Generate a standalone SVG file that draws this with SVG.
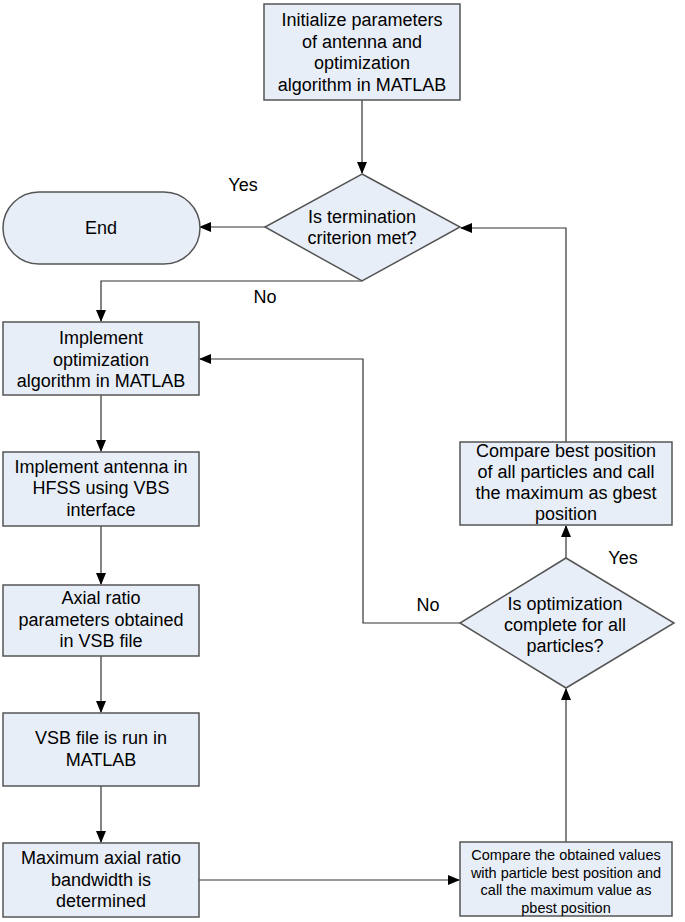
<svg xmlns="http://www.w3.org/2000/svg" width="685" height="922" viewBox="0 0 685 922">
<style>
.n{fill:#e8eef8;stroke:#555;stroke-width:1.5}
.t{font-family:"Liberation Sans",Arial,sans-serif;font-size:18px;fill:#000;text-anchor:middle}
.s{font-size:14.5px}
.c{fill:none;stroke:#333;stroke-width:1.2}
</style>
<defs>
<marker id="a" markerWidth="12" markerHeight="10" refX="11" refY="5" orient="auto" markerUnits="userSpaceOnUse">
<path d="M0,0 L12,5 L0,10 Z" fill="#000"/>
</marker>
</defs>
<rect width="685" height="922" fill="#fff"/>
<g id="connectors">
<path class="c" d="M362,100 V173" marker-end="url(#a)"/>
<path class="c" d="M265,227 H200" marker-end="url(#a)"/>
<path class="c" d="M362,281 H101 V321" marker-end="url(#a)"/>
<path class="c" d="M101,395 V451" marker-end="url(#a)"/>
<path class="c" d="M101,526 V584" marker-end="url(#a)"/>
<path class="c" d="M101,656 V712" marker-end="url(#a)"/>
<path class="c" d="M101,786 V842" marker-end="url(#a)"/>
<path class="c" d="M199,880 H459" marker-end="url(#a)"/>
<path class="c" d="M566,842 V689" marker-end="url(#a)"/>
<path class="c" d="M566,558 V526" marker-end="url(#a)"/>
<path class="c" d="M566,442 V228 H461" marker-end="url(#a)"/>
<path class="c" d="M460,623 H363 V359 H200" marker-end="url(#a)"/>
<text class="t" x="243" y="191">Yes</text>
<text class="t" x="265" y="303">No</text>
<text class="t" x="428" y="611">No</text>
<text class="t" x="623" y="564">Yes</text>
</g>
<g id="init">
<rect class="n" x="264" y="4" width="196" height="96"/>
<text class="t" x="362" y="26">Initialize parameters</text>
<text class="t" x="362" y="47.5">of antenna and</text>
<text class="t" x="362" y="69">optimization</text>
<text class="t" x="362" y="90.5">algorithm in MATLAB</text>
</g>
<g id="term">
<polygon class="n" points="362,174 460,227 362,281 265,227"/>
<text class="t" x="362" y="223">Is termination</text>
<text class="t" x="362" y="244">criterion met?</text>
</g>
<g id="end">
<rect class="n" x="3" y="192" width="197" height="72" rx="36" ry="36"/>
<text class="t" x="101" y="234">End</text>
</g>
<g id="impl-opt">
<rect class="n" x="3" y="322" width="196" height="73"/>
<text class="t" x="101" y="344">Implement</text>
<text class="t" x="101" y="366">optimization</text>
<text class="t" x="101" y="387">algorithm in MATLAB</text>
</g>
<g id="impl-ant">
<rect class="n" x="3" y="452" width="196" height="74"/>
<text class="t" x="101" y="473">Implement antenna in</text>
<text class="t" x="101" y="494">HFSS using VBS</text>
<text class="t" x="101" y="516">interface</text>
</g>
<g id="axial">
<rect class="n" x="3" y="585" width="196" height="71"/>
<text class="t" x="101" y="604">Axial ratio</text>
<text class="t" x="101" y="626">parameters obtained</text>
<text class="t" x="101" y="647">in VSB file</text>
</g>
<g id="vsb">
<rect class="n" x="3" y="713" width="196" height="73"/>
<text class="t" x="101" y="744">VSB file is run in</text>
<text class="t" x="101" y="766">MATLAB</text>
</g>
<g id="max">
<rect class="n" x="3" y="843" width="196" height="74"/>
<text class="t" x="101" y="864">Maximum axial ratio</text>
<text class="t" x="101" y="886">bandwidth is</text>
<text class="t" x="101" y="907">determined</text>
</g>
<g id="pbest">
<rect class="n" x="460" y="842" width="212" height="74"/>
<text class="t s" x="566" y="860">Compare the obtained values</text>
<text class="t s" x="566" y="877.5">with particle best position and</text>
<text class="t s" x="566" y="895">call the maximum value as</text>
<text class="t s" x="566" y="912.5">pbest position</text>
</g>
<g id="complete">
<polygon class="n" points="566,558 674,623 566,688 460,623"/>
<text class="t" x="565" y="610">Is optimization</text>
<text class="t" x="565" y="631">complete for all</text>
<text class="t" x="565" y="652">particles?</text>
</g>
<g id="gbest">
<rect class="n" x="460" y="442" width="212" height="83"/>
<text class="t" x="566" y="457">Compare best position</text>
<text class="t" x="566" y="478">of all particles and call</text>
<text class="t" x="566" y="499">the maximum as gbest</text>
<text class="t" x="566" y="520">position</text>
</g>
</svg>
